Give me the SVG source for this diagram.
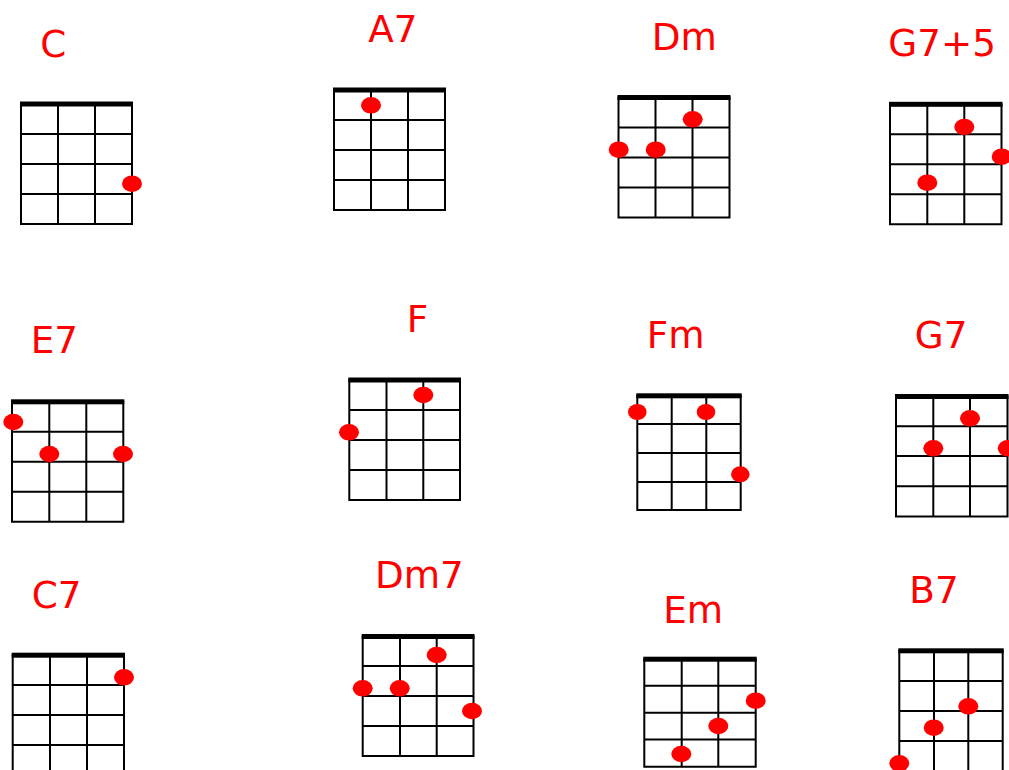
<svg xmlns="http://www.w3.org/2000/svg" width="1009" height="770" viewBox="0 0 1009 770">
<style>
.lbl{font-family:"DejaVu Sans","Liberation Sans",sans-serif;font-size:37.3px;fill:#ff0000}
.grid{fill:none;stroke:#000;stroke-width:2}
.nut{fill:#000}
.dot{fill:#ff0000}
</style>
<rect width="1009" height="770" fill="#fff"/>
<g id="chord-C">
<text class="lbl" x="40.3" y="57">C</text>
<path class="grid" d="M21 104H132V224H21Z M58 104V224 M95 104V224 M21 134H132 M21 164H132 M21 194H132"/>
<rect class="nut" x="20" y="101.5" width="113" height="5"/>
<ellipse class="dot" cx="132" cy="183.7" rx="10" ry="8.3"/>
</g>
<g id="chord-A7">
<text class="lbl" x="368.3" y="42.3">A7</text>
<path class="grid" d="M334 90H445V210H334Z M371 90V210 M408 90V210 M334 120H445 M334 150H445 M334 180H445"/>
<rect class="nut" x="333" y="87.5" width="113" height="5"/>
<ellipse class="dot" cx="371" cy="105.3" rx="10" ry="8.3"/>
</g>
<g id="chord-Dm">
<text class="lbl" x="651.8" y="50">Dm</text>
<path class="grid" d="M618.5 97.5H729.5V217.5H618.5Z M655.5 97.5V217.5 M692.5 97.5V217.5 M618.5 127.5H729.5 M618.5 157.5H729.5 M618.5 187.5H729.5"/>
<rect class="nut" x="617.5" y="95" width="113" height="5"/>
<ellipse class="dot" cx="692.7" cy="119.3" rx="10" ry="8.3"/>
<ellipse class="dot" cx="618.7" cy="149.7" rx="10" ry="8.3"/>
<ellipse class="dot" cx="655.7" cy="149.7" rx="10" ry="8.3"/>
</g>
<g id="chord-G7plus5">
<text class="lbl" x="888.3" y="56">G7+5</text>
<path class="grid" d="M890 104.3H1001.5V224.3H890Z M927.3 104.3V224.3 M964.3 104.3V224.3 M890 134.3H1001.5 M890 164.3H1001.5 M890 194.3H1001.5"/>
<rect class="nut" x="889" y="101.8" width="113.5" height="5"/>
<ellipse class="dot" cx="964.3" cy="127" rx="10" ry="8.3"/>
<ellipse class="dot" cx="1001.7" cy="156.7" rx="10" ry="8.3"/>
<ellipse class="dot" cx="927.3" cy="182.7" rx="10" ry="8.3"/>
</g>
<g id="chord-E7">
<text class="lbl" x="30.8" y="353.3">E7</text>
<path class="grid" d="M12 401.8H123.3V521.8H12Z M49.3 401.8V521.8 M86.3 401.8V521.8 M12 431.8H123.3 M12 461.8H123.3 M12 491.8H123.3"/>
<rect class="nut" x="11" y="399.3" width="113.3" height="5"/>
<ellipse class="dot" cx="13.3" cy="422" rx="10" ry="8.3"/>
<ellipse class="dot" cx="49.3" cy="454" rx="10" ry="8.3"/>
<ellipse class="dot" cx="123" cy="454" rx="10" ry="8.3"/>
</g>
<g id="chord-F">
<text class="lbl" x="406.8" y="331.7">F</text>
<path class="grid" d="M349.3 380H460V500H349.3Z M386.5 380V500 M423.3 380V500 M349.3 410H460 M349.3 440H460 M349.3 470H460"/>
<rect class="nut" x="348.3" y="377.5" width="112.7" height="5"/>
<ellipse class="dot" cx="423.3" cy="395" rx="10" ry="8.3"/>
<ellipse class="dot" cx="349" cy="432.3" rx="10" ry="8.3"/>
</g>
<g id="chord-Fm">
<text class="lbl" x="646.8" y="348.3">Fm</text>
<path class="grid" d="M637.3 395.8H740.7V510H637.3Z M671.7 395.8V510 M706.3 395.8V510 M637.3 424H740.7 M637.3 453H740.7 M637.3 482H740.7"/>
<rect class="nut" x="636.3" y="393.3" width="105.4" height="5"/>
<ellipse class="dot" cx="637.3" cy="412" rx="9.3" ry="8"/>
<ellipse class="dot" cx="706" cy="412" rx="9.3" ry="8"/>
<ellipse class="dot" cx="740.3" cy="474.3" rx="9.3" ry="8"/>
</g>
<g id="chord-G7">
<text class="lbl" x="914.8" y="348.3">G7</text>
<path class="grid" d="M896 396.5H1007.5V516.5H896Z M933.3 396.5V516.5 M970 396.5V516.5 M896 426.3H1007.5 M896 456H1007.5 M896 486.3H1007.5"/>
<rect class="nut" x="895" y="394" width="113.5" height="5"/>
<ellipse class="dot" cx="970" cy="418.3" rx="10" ry="8.3"/>
<ellipse class="dot" cx="933.3" cy="448.3" rx="10" ry="8.3"/>
<ellipse class="dot" cx="1007.7" cy="448.3" rx="10" ry="8.3"/>
</g>
<g id="chord-C7">
<text class="lbl" x="31.8" y="607.7">C7</text>
<path class="grid" d="M12.7 655.2H124V775.2H12.7Z M50 655.2V775.2 M87 655.2V775.2 M12.7 685H124 M12.7 715H124 M12.7 745H124"/>
<rect class="nut" x="11.7" y="652.7" width="113.3" height="5"/>
<ellipse class="dot" cx="124" cy="677.3" rx="10" ry="8.3"/>
</g>
<g id="chord-Dm7">
<text class="lbl" x="375" y="588.3">Dm7</text>
<path class="grid" d="M362.7 636.5H473.5V756H362.7Z M400 636.5V756 M436.7 636.5V756 M362.7 666H473.5 M362.7 696H473.5 M362.7 726H473.5"/>
<rect class="nut" x="361.7" y="634" width="112.8" height="5"/>
<ellipse class="dot" cx="436.7" cy="655" rx="10" ry="8.3"/>
<ellipse class="dot" cx="362.7" cy="688.3" rx="10" ry="8.3"/>
<ellipse class="dot" cx="399.7" cy="688.3" rx="10" ry="8.3"/>
<ellipse class="dot" cx="472" cy="711" rx="10" ry="8.3"/>
</g>
<g id="chord-Em">
<text class="lbl" x="663.3" y="622.7">Em</text>
<path class="grid" d="M644.3 659.2H755.7V766.7H644.3Z M681.7 659.2V766.7 M718.3 659.2V766.7 M644.3 685.7H755.7 M644.3 712.7H755.7 M644.3 739.5H755.7"/>
<rect class="nut" x="643.3" y="656.7" width="113.4" height="5"/>
<ellipse class="dot" cx="755.7" cy="700.7" rx="10" ry="8.3"/>
<ellipse class="dot" cx="718.3" cy="726" rx="10" ry="8.3"/>
<ellipse class="dot" cx="681.3" cy="754" rx="10" ry="8.3"/>
</g>
<g id="chord-B7">
<text class="lbl" x="909.3" y="602.7">B7</text>
<path class="grid" d="M899.3 650.8H1002.7V771H899.3Z M934 650.8V771 M968.3 650.8V771 M899.3 681H1002.7 M899.3 711H1002.7 M899.3 741H1002.7"/>
<rect class="nut" x="898.3" y="648.3" width="105.4" height="5"/>
<ellipse class="dot" cx="968.3" cy="706.3" rx="10" ry="8.3"/>
<ellipse class="dot" cx="933.7" cy="727.7" rx="10" ry="8.3"/>
<ellipse class="dot" cx="899.3" cy="763.3" rx="10" ry="8.3"/>
</g>
<g id="connectors"/>
</svg>
